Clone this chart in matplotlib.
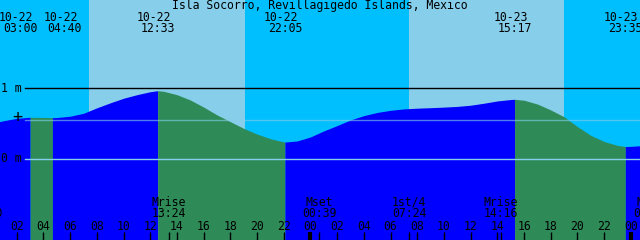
import matplotlib
matplotlib.use("Agg")
import matplotlib.pyplot as plt
import matplotlib.transforms as mtransforms
import numpy as np

# Isla Socorro tide, hours after 10-22 00:00 local
tide_hours = [0, 1, 2, 3.0, 4, 4.667, 5, 6, 7, 8, 9, 10, 11, 12, 12.55, 13, 14,
              15, 16, 17, 18, 19, 20, 21, 22, 22.083, 23, 24, 25, 26, 27, 28, 29,
              30, 31, 32, 33, 34, 35, 36, 37, 38, 39, 39.283, 40, 41, 42, 43, 44,
              45, 46, 47, 47.583, 48, 49]
tide_m = [0.50, 0.543, 0.577, 0.592, 0.589, 0.586, 0.588, 0.607, 0.648, 0.725,
          0.795, 0.86, 0.91, 0.952, 0.966, 0.958, 0.91, 0.835, 0.735, 0.625,
          0.53, 0.435, 0.355, 0.29, 0.245, 0.243, 0.258, 0.315, 0.40, 0.475,
          0.555, 0.615, 0.66, 0.69, 0.71, 0.72, 0.727, 0.735, 0.745, 0.762,
          0.79, 0.822, 0.842, 0.845, 0.832, 0.778, 0.695, 0.598, 0.46, 0.337,
          0.25, 0.196, 0.18, 0.182, 0.195]

# high / low tide events
event_hours = [3.0, 4.667, 12.55, 22.083, 39.283, 47.583]
event_dates = ["10-22", "10-22", "10-22", "10-22", "10-23", "10-23"]
event_times = ["03:00", "04:40", "12:33", "22:05", "15:17", "23:35"]
event_nudge_px = [-10, 12, 0, 0, 0, 0]

# daylight (sunrise, sunset)
day_spans = [(7.41, 19.09), (31.38, 43.0)]

# moon events
moon_hours = [-0.33, 13.4, 24.65, 31.4, 38.267, 49.45]
moon_names = ["Mset", "Mrise", "Mset", "1st/4", "Mrise", "Mset"]
moon_times = ["23:40", "13:24", "00:39", "07:24", "14:16", "01:27"]

W, H = 640, 240
PX_PER_HOUR = 13.35
x0 = 0.742
x1 = x0 + W / PX_PER_HOUR
y_top = 159.3 / 71.0
y_bot = (159.3 - H) / 71.0

NIGHT = "#00BFFF"
DAY = "#87CEEB"
RISE = "#0000FF"
FALL = "#2E8B57"
FONT = "DejaVu Sans Mono"
FS = 8.3

fig = plt.figure(figsize=(6.4, 2.4), dpi=100)
ax = fig.add_axes([0, 0, 1, 1])
ax.set_xlim(x0, x1)
ax.set_ylim(y_bot, y_top)
ax.set_axis_off()
ax.set_facecolor(NIGHT)
fig.patch.set_facecolor(NIGHT)

for a, b in day_spans:
    ax.axvspan(a, b, color=DAY, lw=0, zorder=0)

# water fill, blue while rising and green while falling
hrs = np.array(tide_hours)
hts = np.array(tide_m)
bounds = [hrs[0]] + event_hours + [hrs[-1]]
for i in range(len(bounds) - 1):
    a, b = bounds[i], bounds[i + 1]
    m = (hrs >= a) & (hrs <= b)
    ax.fill_between(hrs[m], hts[m], y_bot, color=FALL if i % 2 else RISE,
                    lw=0, zorder=1)

# datum lines
xs_frac = 25 / W
ax.axhline(1.0, xmin=xs_frac, color="black", lw=1.0, zorder=3)
ax.axhline((159.3 - 120) / 71.0, xmin=xs_frac, color="#87CEEB", alpha=0.6,
           lw=1.0, zorder=3)
ax.axhline(0.0, xmin=xs_frac, color="#87CEEB", lw=1.0, zorder=3)

def ypx(p):
    return 1 - p / H

xt = mtransforms.blended_transform_factory(ax.transData, ax.transAxes)
kw = dict(family=FONT, fontsize=FS, color="black", va="center", zorder=5)

ax.text(0.5, ypx(6), "Isla Socorro, Revillagigedo Islands, Mexico",
        transform=ax.transAxes, ha="center", **kw)

for hr, d, t, n in zip(event_hours, event_dates, event_times, event_nudge_px):
    xc = hr + n / PX_PER_HOUR
    ax.text(xc - 4 / PX_PER_HOUR, ypx(17.5), d, transform=xt, ha="center", **kw)
    ax.text(xc, ypx(29), t, transform=xt, ha="center", **kw)

ax.text(1 / W, ypx(88), "1 m", transform=ax.transAxes, ha="left", **kw)
ax.text(1 / W, ypx(159), "0 m", transform=ax.transAxes, ha="left", **kw)
ax.text(17 / W, ypx(117.5), "+", transform=ax.transAxes, ha="center",
        family=FONT, fontsize=12, va="center", color="black", zorder=5)

# hour ticks along the bottom
tick_lo, tick_hi = ypx(240), ypx(232)
for h in range(0, 50, 2):
    ax.text(h, ypx(226), f"{h % 24:02d}", transform=xt, ha="center", **kw)
    ax.vlines(h, tick_lo, tick_hi, transform=xt, color="black",
              lw=3.0 if h % 24 == 0 else 1.0, zorder=5)

for hr, name, t in zip(moon_hours, moon_names, moon_times):
    ax.text(hr, ypx(202), name, transform=xt, ha="center", **kw)
    ax.text(hr, ypx(213.5), t, transform=xt, ha="center", **kw)
    ax.vlines(hr, tick_lo, tick_hi, transform=xt, color="black", lw=1.0, zorder=5)

fig.savefig("out.png", dpi=100, facecolor=fig.get_facecolor())
